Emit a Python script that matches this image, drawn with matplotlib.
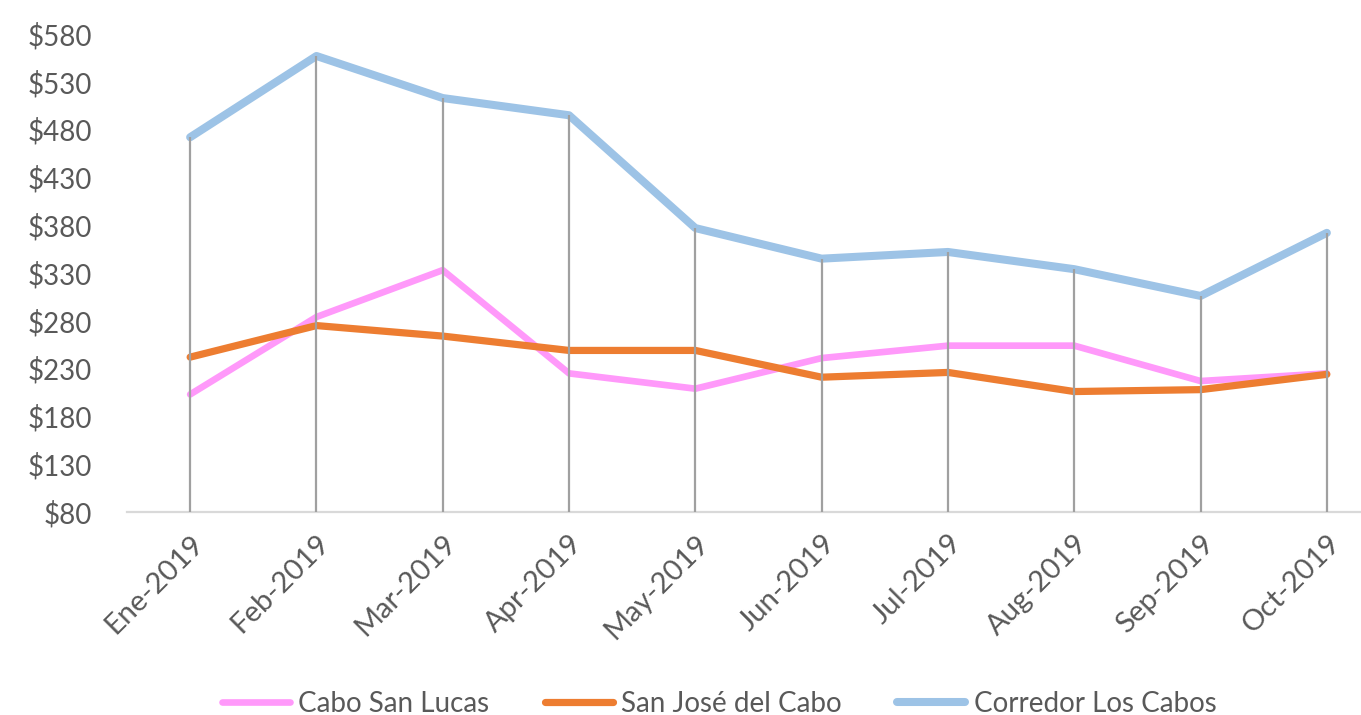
import numpy as np
import matplotlib.pyplot as plt

meses = ["Ene-2019", "Feb-2019", "Mar-2019", "Apr-2019", "May-2019",
         "Jun-2019", "Jul-2019", "Aug-2019", "Sep-2019", "Oct-2019"]
cabo_san_lucas = [203, 284, 333, 225, 209, 241, 254, 254, 217, 225]
san_jose = [242, 275, 264, 249, 249, 221, 226, 206, 208, 224]
corredor = [472, 557, 513, 495, 377, 345, 352, 334, 306, 372]
y_ticks = list(range(80, 581, 50))

plt.rcParams["font.family"] = ["Lato", "DejaVu Sans"]
gris = "#595959"

fig = plt.figure(figsize=(13.61, 7.15), dpi=100)
ax = fig.add_axes([127 / 1361, 1 - 512 / 715, 1263 / 1361, 478 / 715])

x = np.arange(len(meses))
ax.plot(x, cabo_san_lucas, color="#FF99FA", lw=4.8, label="Cabo San Lucas",
        solid_capstyle="round", zorder=2)
ax.plot(x, san_jose, color="#ED7D31", lw=5.2, label="San José del Cabo",
        solid_capstyle="round", zorder=3)
ax.plot(x, corredor, color="#9DC3E6", lw=5.8, label="Corredor Los Cabos",
        solid_capstyle="round", zorder=4)

# lineas de caida desde el valor mas alto hasta el eje
tope = np.max([cabo_san_lucas, san_jose, corredor], axis=0)
ax.vlines(x, 80, tope, color="#A0A0A0", lw=1.6, zorder=5)

ax.set_xlim(-0.5, len(meses) - 0.5)
ax.set_ylim(80, 580)
ax.set_yticks(y_ticks)
ax.set_yticklabels([f"${v}" for v in y_ticks])
ax.set_xticks(x)
ax.set_xticklabels(meses, rotation=45, ha="right", rotation_mode="anchor")
ax.tick_params(axis="y", length=0, pad=25, labelsize=20, labelcolor=gris)
ax.tick_params(axis="x", length=0, pad=13, labelsize=21, labelcolor=gris)

for lado in ["top", "right", "left"]:
    ax.spines[lado].set_visible(False)
ax.spines["bottom"].set_color("#D9D9D9")
ax.spines["bottom"].set_linewidth(1.6)

leg = fig.legend(loc="center", bbox_to_anchor=(719 / 1361, 1 - 704 / 715),
                 ncol=3, frameon=False, fontsize=20, handlelength=2.45,
                 handletextpad=0.3, columnspacing=2.0)
for t in leg.get_texts():
    t.set_color(gris)

fig.savefig("out.png", dpi=100)
